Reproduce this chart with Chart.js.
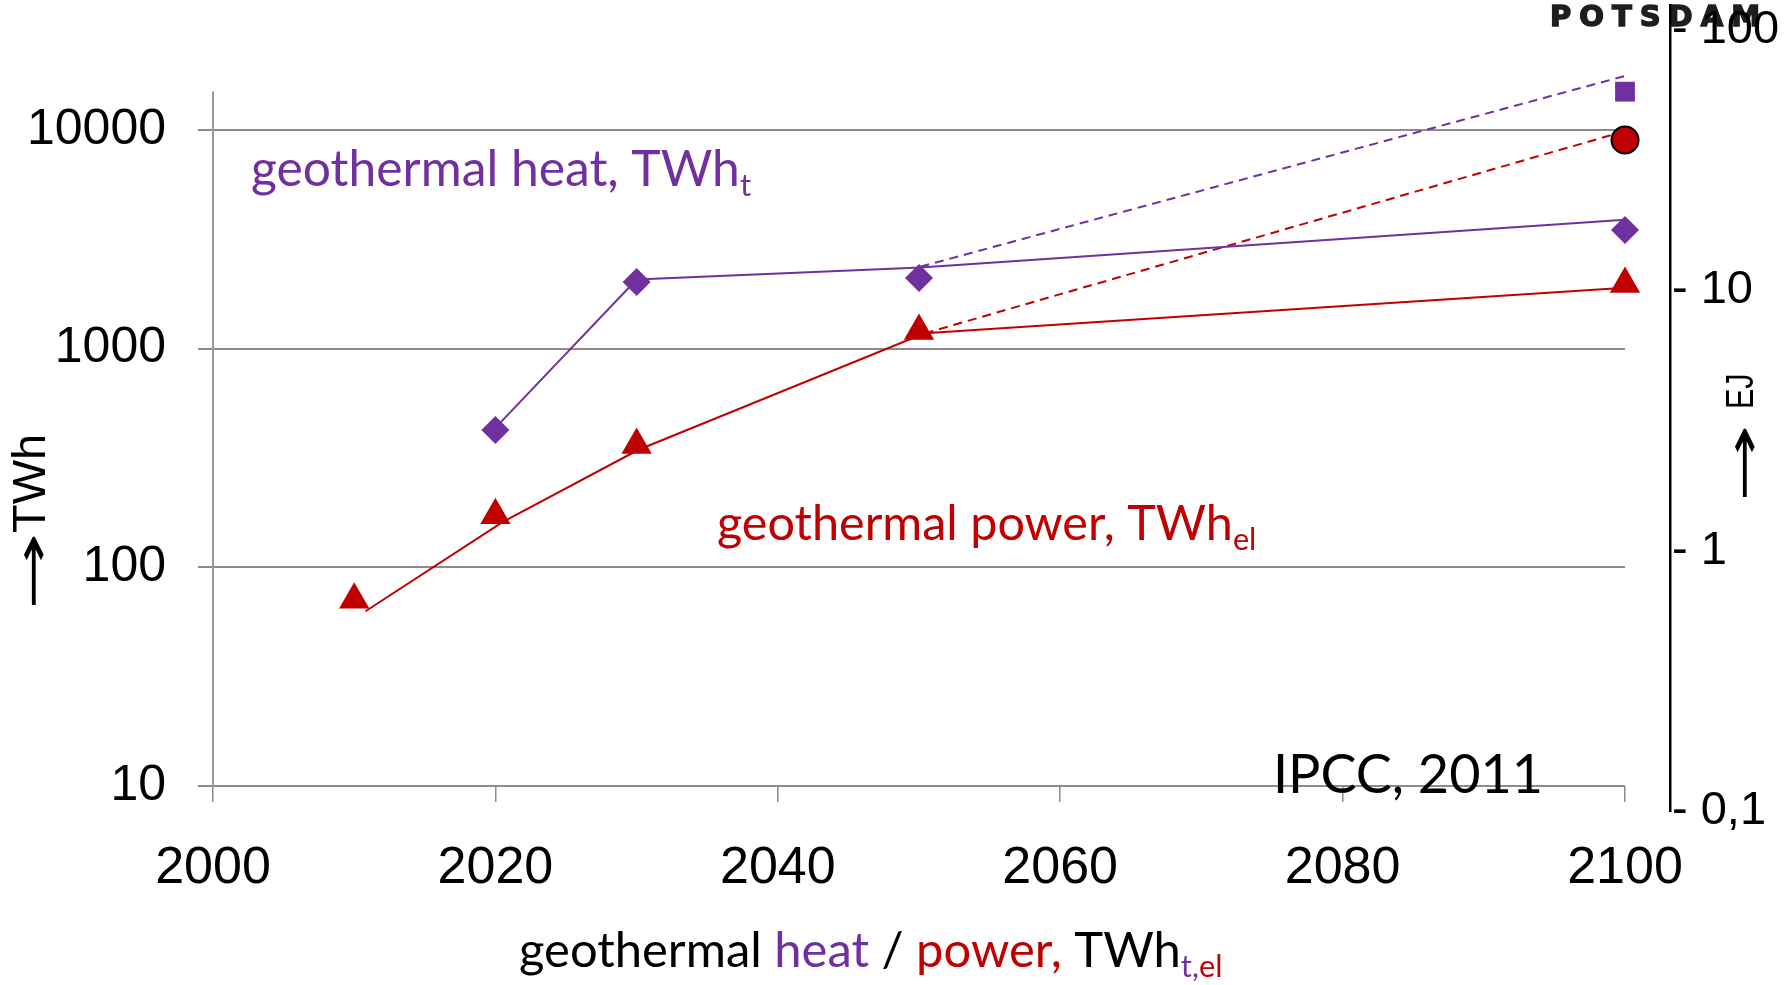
<!DOCTYPE html>
<html>
<head>
<meta charset="utf-8">
<script src="https://cdn.jsdelivr.net/npm/chart.js@4.4.1/dist/chart.umd.min.js"></script>
<style>
  html, body { margin: 0; padding: 0; background: #fff; }
  canvas { display: block; }
</style>
</head>
<body>
<canvas id="geoChart" width="1787" height="985"></canvas>
<script>
// marker values (TWh)
const powerYears = [2010, 2020, 2030, 2050, 2100];
const powerMarks = [71, 173, 363, 1204, 1977];
const heatYears = [2020, 2030, 2050, 2100];
const heatMarks = [425, 2018, 2105, 3490];
const highYear = [2100];
const heatHigh = [14970];
const powerHigh = [9000];

// the connecting lines sit a little apart from the markers in the original
const powerLineYears = [2010.8, 2020.5, 2030.1, 2050.4, 2100];
const powerLine = [63, 161, 344, 1175, 1901];
const heatLineYears = [2020.2, 2030.0, 2050.1, 2100];
const heatLine = [448, 2070, 2350, 3890];
const heatDashYears = [2050.1, 2100];
const heatDash = [2371, 17660];
const powerDashYears = [2050.4, 2099.3];
const powerDash = [1175, 9590];

const xTicks = [2000, 2020, 2040, 2060, 2080, 2100];
const xTickLabels = ['2000', '2020', '2040', '2060', '2080', '2100'];
const leftTicks = [10, 100, 1000, 10000];
const leftTickLabels = ['10', '100', '1000', '10000'];
const rightTicks = [0.1, 1, 10, 100];
const rightTickLabels = ['0,1', '1', '10', '100'];

const PURPLE = '#7030a0';
const RED = '#c00000';
const GRID = '#8c8c8c';

function pts(xs, ys) {
    return xs.map((x, i) => ({ x: x, y: ys[i] }));
}

function noPadY(s) { s.paddingTop = 0; s.paddingBottom = 0; }

// text with coloured pieces and subscripts, sized to a given width
function richText(ctx, x, y, parts, family, width) {
    ctx.font = '100px ' + family;
    let w = 0;
    parts.forEach(p => { if (!p.sub) w += ctx.measureText(p.t).width; });
    const size = 100 * width / w;
    ctx.textAlign = 'left';
    ctx.textBaseline = 'alphabetic';
    parts.forEach(p => {
        const s = p.sub ? size * 0.63 : size;
        ctx.font = s + 'px ' + family;
        ctx.fillStyle = p.c;
        ctx.fillText(p.t, x, p.sub ? y + size * 0.21 : y);
        x += ctx.measureText(p.t).width;
    });
}

function upText(ctx, x, y, text, size, squeeze) {
    ctx.save();
    ctx.translate(x, y);
    ctx.rotate(-Math.PI / 2);
    ctx.scale(squeeze, 1);
    ctx.font = size + 'px "Liberation Sans"';
    ctx.fillStyle = '#000';
    ctx.textAlign = 'left';
    ctx.textBaseline = 'alphabetic';
    ctx.fillText(text, 0, 0);
    ctx.restore();
}

// arrow glyph stretched so its ink runs len pixels upward from y
function upArrow(ctx, x, y, len, size) {
    ctx.save();
    ctx.translate(x, y);
    ctx.rotate(-Math.PI / 2);
    ctx.font = size + 'px "DejaVu Sans"';
    ctx.textAlign = 'left';
    ctx.textBaseline = 'middle';
    const m = ctx.measureText('\u2192');
    const ink = m.actualBoundingBoxLeft + m.actualBoundingBoxRight;
    ctx.scale(len / ink, 1);
    ctx.fillStyle = '#000';
    ctx.fillText('\u2192', m.actualBoundingBoxLeft, 0);
    ctx.restore();
}

const notes = {
    id: 'notes',
    beforeDraw(chart) {
        const ctx = chart.ctx;
        const word = 'POTSDAM';
        ctx.save();
        ctx.font = 'bold 29px "DejaVu Sans"';
        ctx.fillStyle = '#1e1e1e';
        ctx.strokeStyle = '#1e1e1e';
        ctx.lineWidth = 1.5;
        ctx.textBaseline = 'alphabetic';
        let total = 0;
        for (const ch of word) total += ctx.measureText(ch).width;
        const gap = (210 - total) / (word.length - 1);
        let x = 1550;
        for (const ch of word) {
            ctx.fillText(ch, x, 26);
            ctx.strokeText(ch, x, 26);
            x += ctx.measureText(ch).width + gap;
        }
        ctx.restore();
    },
    beforeDatasetsDraw(chart) {
        const ctx = chart.ctx;
        const y = chart.scales.y;
        const left = chart.chartArea.left;
        ctx.save();
        ctx.strokeStyle = '#999';
        ctx.lineWidth = 2;
        ctx.beginPath();
        ctx.moveTo(left, y.getPixelForValue(15000));
        ctx.lineTo(left, y.getPixelForValue(10));
        ctx.stroke();
        ctx.restore();
    },
    afterDraw(chart) {
        const ctx = chart.ctx;
        ctx.save();
        richText(ctx, 251, 186, [
            { t: 'geothermal heat, TWh', c: PURPLE },
            { t: 't', c: PURPLE, sub: true }
        ], 'Lato', 489);
        richText(ctx, 717, 540, [
            { t: 'geothermal power, TWh', c: RED },
            { t: 'el', c: RED, sub: true }
        ], 'Lato', 516);
        richText(ctx, 1273, 793, [
            { t: 'IPCC, 2011', c: '#000' }
        ], 'Lato', 270);
        richText(ctx, 519, 967, [
            { t: 'geothermal ', c: '#000' },
            { t: 'heat', c: PURPLE },
            { t: ' / ', c: '#000' },
            { t: 'power,', c: RED },
            { t: ' TWh', c: '#000' },
            { t: 't,', c: PURPLE, sub: true },
            { t: 'el', c: RED, sub: true }
        ], 'Lato', 662);
        upText(ctx, 45, 533, 'TWh', 47, 1);
        upArrow(ctx, 36, 606, 71, 46);
        upText(ctx, 1753, 409, 'EJ', 39, 0.78);
        upArrow(ctx, 1747, 498, 71, 46);
        ctx.restore();
    }
};

const ctx = document.getElementById('geoChart').getContext('2d');

new Chart(ctx, {
    type: 'line',
    data: {
        datasets: [
            {
                label: 'heat, high',
                data: pts(highYear, heatHigh),
                showLine: false,
                pointStyle: 'rect',
                pointRadius: 14,
                backgroundColor: PURPLE,
                borderColor: PURPLE,
                pointBorderWidth: 0
            },
            {
                label: 'power, high',
                data: pts(highYear, powerHigh),
                showLine: false,
                pointStyle: 'circle',
                pointRadius: 13.5,
                backgroundColor: RED,
                borderColor: '#000',
                pointBorderWidth: 2
            },
            {
                label: 'heat',
                data: pts(heatYears, heatMarks),
                showLine: false,
                pointStyle: 'rectRot',
                pointRadius: 14,
                backgroundColor: PURPLE,
                borderColor: PURPLE,
                pointBorderWidth: 0
            },
            {
                label: 'power',
                data: pts(powerYears, powerMarks),
                showLine: false,
                pointStyle: 'triangle',
                pointRadius: 17.5,
                backgroundColor: RED,
                borderColor: RED,
                pointBorderWidth: 0
            },
            {
                label: 'heat line',
                data: pts(heatLineYears, heatLine),
                borderColor: PURPLE,
                borderWidth: 2,
                pointRadius: 0
            },
            {
                label: 'power line',
                data: pts(powerLineYears, powerLine),
                borderColor: RED,
                borderWidth: 2,
                pointRadius: 0
            },
            {
                label: 'heat line, high',
                data: pts(heatDashYears, heatDash),
                borderColor: PURPLE,
                borderWidth: 2,
                borderDash: [9, 6],
                pointRadius: 0
            },
            {
                label: 'power line, high',
                data: pts(powerDashYears, powerDash),
                borderColor: RED,
                borderWidth: 2,
                borderDash: [9, 6],
                pointRadius: 0
            }
        ]
    },
    options: {
        responsive: false,
        animation: false,
        clip: false,
        layout: {
            autoPadding: false,
            padding: { top: 5, bottom: 174, left: 0, right: 0 }
        },
        plugins: {
            legend: { display: false },
            tooltip: { enabled: false }
        },
        scales: {
            x: {
                type: 'linear',
                min: 2000,
                max: 2100,
                position: { y: 10 },
                afterBuildTicks: s => { s.ticks = xTicks.map(v => ({ value: v })); },
                afterFit: s => { s.paddingLeft = 0; s.paddingRight = 0; },
                grid: { drawOnChartArea: false, tickLength: 16, color: GRID, lineWidth: 1.5 },
                border: { display: false },
                ticks: {
                    color: '#000',
                    padding: 35,
                    maxRotation: 0,
                    font: { family: 'Liberation Sans', size: 52, lineHeight: 1.2 },
                    callback: (v, i) => xTickLabels[i]
                }
            },
            y: {
                type: 'logarithmic',
                position: 'left',
                min: 7.687,
                max: 37290,
                afterBuildTicks: s => { s.ticks = leftTicks.map(v => ({ value: v })); },
                afterFit: s => { s.width = 213; noPadY(s); },
                grid: { color: GRID, lineWidth: 2, tickLength: 15 },
                border: { display: false },
                ticks: {
                    color: '#000',
                    padding: 32,
                    font: { family: 'Liberation Sans', size: 50 },
                    callback: (v, i) => leftTickLabels[i]
                }
            },
            gap: {
                type: 'linear',
                position: 'right',
                weight: 0,
                min: 0,
                max: 1,
                afterFit: s => { s.width = 45; noPadY(s); },
                grid: { display: false, drawTicks: false },
                border: { display: false },
                ticks: { display: false }
            },
            yr: {
                type: 'logarithmic',
                position: 'right',
                weight: 1,
                min: 0.1,
                max: 124.9,
                afterBuildTicks: s => { s.ticks = rightTicks.map(v => ({ value: v })); },
                afterFit: s => { s.width = 117; noPadY(s); },
                grid: { display: false, drawTicks: false },
                border: { display: true, color: '#000', width: 2.5 },
                ticks: {
                    color: '#000',
                    padding: 2,
                    font: { family: 'Liberation Sans', size: 47 },
                    callback: (v, i) => '- ' + rightTickLabels[i]
                }
            }
        }
    },
    plugins: [notes]
});
</script>
</body>
</html>
